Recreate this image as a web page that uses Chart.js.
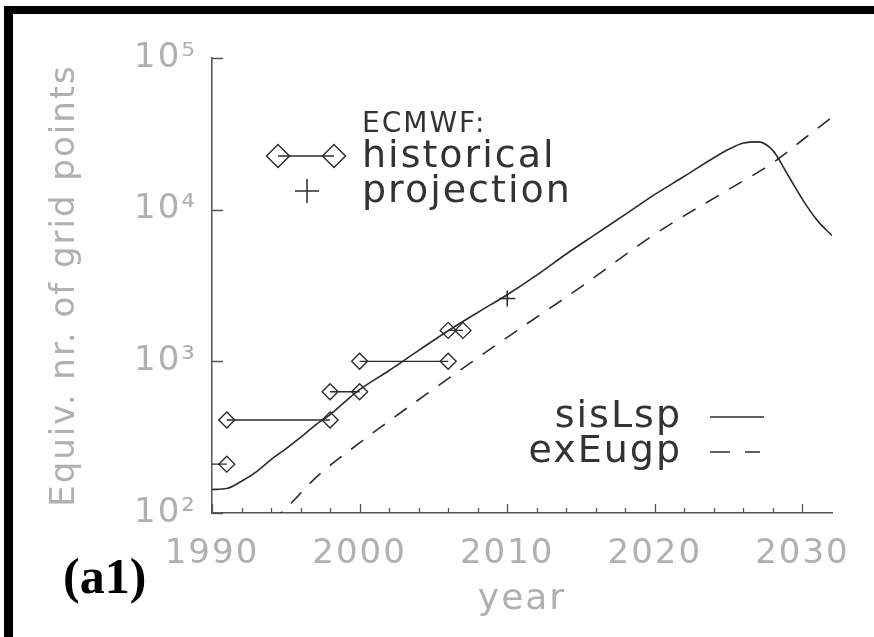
<!DOCTYPE html>
<html>
<head>
<meta charset="utf-8">
<script src="https://cdn.jsdelivr.net/npm/chart.js@4"></script>
<style>
html,body{margin:0;padding:0;background:#fff;}
canvas{display:block;}
</style>
</head>
<body>
<canvas id="c" width="874" height="637"></canvas>
<script>
// ---------- data ----------
const xTickValues = [1990, 2000, 2010, 2020, 2030];
const xTickLabels = ['1990', '2000', '2010', '2020', '2030'];
const xMinorTickValues = [1992, 1994, 1996, 1998, 2002, 2004, 2006, 2008,
                          2012, 2014, 2016, 2018, 2022, 2024, 2026, 2028];
const yTickValues = [100, 1000, 10000, 100000];
const yTickLabels = ['10²', '10³', '10⁴', '10⁵'];

// ECMWF historical: horizontal segments (from year, to year, value)
const histYearFrom = [1989, 1991, 1998, 2000, 2006];
const histYearTo   = [1991, 1998, 2000, 2006, 2007];
const histValue    = [210, 410, 630, 1000, 1600];

// ECMWF projection
const projYears  = [2010];
const projValues = [2600];

// sisLsp (solid)
const sisYears  = [1990, 1991, 1992, 1993, 1994, 1995, 1996, 1997, 1998, 1999, 2000, 2002, 2004, 2006,
                   2008, 2010, 2012, 2014, 2016, 2018, 2020, 2022, 2024, 2025, 2026, 2027, 2028,
                   2029, 2030, 2031, 2032];
const sisValues = [143, 145, 162, 187, 225, 265, 315, 380, 446, 540, 650, 870, 1180, 1590,
                   2100, 2750, 3700, 5100, 6900, 9300, 12600, 16600, 22000, 25000, 27500, 28000, 24500,
                   17000, 11700, 8500, 6750];

// exEugp (dashed)
const exYears  = [1994, 1995, 1997, 2000, 2005, 2010, 2015, 2020, 2025, 2028, 2030, 2032];
const exValues = [88, 107, 170, 290, 656, 1440, 3100, 6900, 13600, 20400, 28800, 40700];

const xTitle = 'year';
const yTitle = 'Equiv. nr. of grid points';
const legendHeader = 'ECMWF:';
const legendHist = 'historical';
const legendProj = 'projection';
const seriesNames = ['sisLsp', 'exEugp'];
const panelLabel = '(a1)';

// ---------- build ----------
const histData = [];
histYearFrom.forEach((x0, i) => {
  if (i) histData.push({x: x0, y: null});
  histData.push({x: x0, y: histValue[i]}, {x: histYearTo[i], y: histValue[i]});
});
const projData = projYears.map((x, i) => ({x, y: projValues[i]}));
const sisData = sisYears.map((x, i) => ({x, y: sisValues[i]}));
const exData = exYears.map((x, i) => ({x, y: exValues[i]}));

const SANS = "'DejaVu Sans', sans-serif";
const LS = '2px';
const GREY = '#b0b0b0';
const AXIS = '#555';
const INK = '#2b2b2b';

function diamond(ctx, x, y, r) {
  ctx.beginPath();
  ctx.moveTo(x - r, y); ctx.lineTo(x, y - r); ctx.lineTo(x + r, y); ctx.lineTo(x, y + r);
  ctx.closePath(); ctx.stroke();
}

const decor = {
  id: 'decor',
  beforeLayout(chart) { chart.ctx.letterSpacing = LS; },
  beforeDraw(chart) {
    const ctx = chart.ctx;
    ctx.save();
    ctx.fillStyle = '#fff';
    ctx.fillRect(0, 0, chart.width, chart.height);
    ctx.fillStyle = '#000';
    ctx.fillRect(8, 6, chart.width - 8, 8);
    ctx.fillRect(4, 6, 9, chart.height - 6);
    ctx.restore();
    ctx.letterSpacing = LS;
  },
  afterDatasetsDraw(chart) {
    // inward axis tick marks, placed by the chart's own scales
    const ctx = chart.ctx;
    const xs = chart.scales.x, ys = chart.scales.y;
    const bottom = chart.chartArea.bottom, left = chart.chartArea.left;
    ctx.save();
    ctx.strokeStyle = AXIS;
    ctx.lineWidth = 1.3;
    ctx.beginPath();
    xTickValues.forEach(v => { const p = Math.round(xs.getPixelForValue(v)) + 0.5; ctx.moveTo(p, bottom); ctx.lineTo(p, bottom - 9); });
    xMinorTickValues.forEach(v => { const p = Math.round(xs.getPixelForValue(v)) + 0.5; ctx.moveTo(p, bottom); ctx.lineTo(p, bottom - 5); });
    yTickValues.forEach(v => { const p = Math.round(ys.getPixelForValue(v)) + 0.5; ctx.moveTo(left, p); ctx.lineTo(left + 11, p); });
    ctx.stroke();
    ctx.restore();
  },
  afterDraw(chart) {
    const ctx = chart.ctx;
    ctx.save();
    ctx.letterSpacing = LS;
    ctx.fillStyle = '#333';
    ctx.strokeStyle = INK;
    ctx.lineWidth = 1.5;
    ctx.textBaseline = 'alphabetic';
    ctx.textAlign = 'left';
    ctx.font = '28px ' + SANS;
    ctx.fillText(legendHeader, 362, 132);
    ctx.font = '38px ' + SANS;
    ctx.fillText(legendHist, 362, 167);
    ctx.fillText(legendProj, 362, 202);
    // diamond-line-diamond symbol
    ctx.beginPath(); ctx.moveTo(278, 156); ctx.lineTo(334, 156); ctx.stroke();
    diamond(ctx, 278, 156, 11.5);
    diamond(ctx, 334, 156, 11.5);
    // plus symbol
    ctx.beginPath();
    ctx.moveTo(295, 191); ctx.lineTo(319, 191);
    ctx.moveTo(307, 179); ctx.lineTo(307, 203);
    ctx.stroke();
    // series legend
    ctx.textAlign = 'right';
    ctx.fillText(seriesNames[0], 682, 427);
    ctx.fillText(seriesNames[1], 682, 462);
    ctx.beginPath(); ctx.moveTo(710, 417); ctx.lineTo(764, 417); ctx.stroke();
    ctx.setLineDash([20, 15]);
    ctx.beginPath(); ctx.moveTo(710, 452); ctx.lineTo(760, 452); ctx.stroke();
    ctx.setLineDash([]);
    // panel label
    ctx.letterSpacing = '0px';
    ctx.fillStyle = '#000';
    ctx.textAlign = 'left';
    ctx.font = "bold 50px 'Liberation Serif', serif";
    ctx.fillText(panelLabel, 63, 593);
    ctx.restore();
  }
};

new Chart(document.getElementById('c'), {
  type: 'line',
  data: {
    datasets: [
      { label: seriesNames[0], data: sisData, borderColor: INK, borderWidth: 1.6, pointRadius: 0,
        cubicInterpolationMode: 'monotone', fill: false },
      { label: seriesNames[1], data: exData, borderColor: INK, borderWidth: 1.6, pointRadius: 0,
        borderDash: [15, 12], cubicInterpolationMode: 'monotone', fill: false },
      { label: legendHist, data: histData, borderColor: INK, borderWidth: 1.4, tension: 0,
        pointStyle: 'rectRot', pointRadius: 8, pointBorderColor: INK, pointBorderWidth: 1.4,
        pointBackgroundColor: 'rgba(0,0,0,0)', spanGaps: false, fill: false },
      { label: legendProj, data: projData, showLine: false, pointStyle: 'cross', pointRadius: 8,
        pointBorderColor: INK, pointBorderWidth: 1.5 }
    ]
  },
  options: {
    responsive: false,
    animation: false,
    events: [],
    plugins: { legend: { display: false }, tooltip: { enabled: false } },
    layout: { padding: { left: 0, top: 58, right: 42, bottom: 0 } },
    scales: {
      x: {
        type: 'linear', position: 'bottom', min: 1990, max: 2032,
        afterBuildTicks: s => { s.ticks = xTickValues.map(v => ({value: v})); },
        afterFit: s => { s.height = 124; s.paddingLeft = 0; s.paddingRight = 0; },
        ticks: { callback: (v, i) => xTickLabels[i], color: GREY, font: { family: SANS, size: 34 },
                 padding: 21, maxRotation: 0, autoSkip: false },
        grid: { display: true, drawOnChartArea: false, drawTicks: false },
        border: { display: true, color: AXIS, width: 1.5 },
        title: { display: true, text: xTitle, color: GREY, font: { family: SANS, size: 36 },
                 padding: { top: 0, bottom: 16 } }
      },
      y: {
        type: 'logarithmic', position: 'left', min: 100, max: 100000,
        afterBuildTicks: s => { s.ticks = yTickValues.map(v => ({value: v})); },
        afterFit: s => { s.width = 212; s.paddingTop = 0; s.paddingBottom = 0; },
        ticks: { callback: (v, i) => yTickLabels[i], color: GREY, font: { family: SANS, size: 34 },
                 padding: 15, autoSkip: false },
        grid: { display: true, drawOnChartArea: false, drawTicks: false },
        border: { display: true, color: AXIS, width: 1.5 },
        title: { display: true, text: yTitle, color: GREY, font: { family: SANS, size: 34 },
                 padding: { top: 45, bottom: 0 } }
      }
    }
  },
  plugins: [decor]
});
</script>
</body>
</html>
